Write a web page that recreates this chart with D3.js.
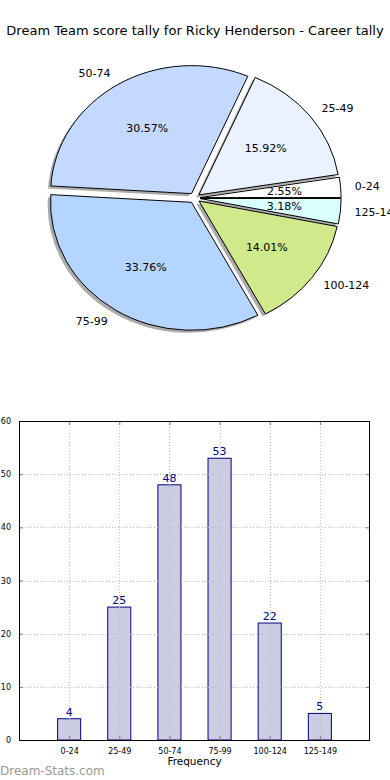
<!DOCTYPE html>
<html>
<head>
<meta charset="utf-8">
<script src="https://cdn.jsdelivr.net/npm/d3@7"></script>
<style>
  html, body { margin: 0; padding: 0; background: #fff; }
  svg { display: block; font-family: "DejaVu Sans", sans-serif; }
</style>
</head>
<body>
<svg id="chart" width="390" height="780"></svg>
<script>
const WIDTH = 390;
const HEIGHT = 780;

const title = 'Dream Team score tally for Ricky Henderson - Career tally';
const categories = ['0-24', '25-49', '50-74', '75-99', '100-124', '125-149'];
const counts = [4, 25, 48, 53, 22, 5];
const pieColors = ['#ffffff', '#eaf2ff', '#c4d9ff', '#b4d5ff', '#d0e98b', '#d9ffff'];
const explode = [0.04, 0.04, 0.04, 0.04, 0.04, 0.04];
const yTicks = [0, 10, 20, 30, 40, 50, 60];

const svg = d3.select('#chart');

svg.append('text')
    .attr('x', WIDTH / 2)
    .attr('y', 35)
    .attr('text-anchor', 'middle')
    .attr('font-size', 13)
    .attr('fill', '#000')
    .text(title);

// ---- pie (elliptical, like matplotlib without equal aspect) ----
const cx = 194.5, cy = 198, rx = 141, ry = 128;
const total = d3.sum(counts);

// matplotlib starts at 3 o'clock and goes counter-clockwise
const pie = d3.pie().sort(null).startAngle(Math.PI / 2).endAngle(Math.PI / 2 - 2 * Math.PI);
const arcs = pie(counts);
const arc = d3.arc().innerRadius(0).outerRadius(1);

const pieG = svg.append('g');

arcs.forEach((a, i) => {
  const mid = (a.startAngle + a.endAngle) / 2; // d3 angle, cw from north
  const theta = Math.PI / 2 - mid;             // ccw from east
  a.theta = theta;
  a.ox = explode[i] * rx * Math.cos(theta);
  a.oy = -explode[i] * ry * Math.sin(theta);
});

// shadows first
pieG.selectAll('path.shadow')
    .data(arcs)
    .enter().append('path')
    .attr('class', 'shadow')
    .attr('d', arc)
    .attr('transform', (a) => `translate(${cx + a.ox - 0.02 * rx},${cy + a.oy + 0.02 * ry}) scale(${rx},${ry})`)
    .attr('fill', '#666')
    .attr('fill-opacity', 0.55)
    .attr('stroke', 'none');

pieG.selectAll('path.wedge')
    .data(arcs)
    .enter().append('path')
    .attr('class', 'wedge')
    .attr('d', arc)
    .attr('transform', (a) => `translate(${cx + a.ox},${cy + a.oy}) scale(${rx},${ry})`)
    .attr('fill', (a, i) => pieColors[i])
    .attr('stroke', '#000')
    .attr('stroke-width', 1)
    .attr('vector-effect', 'non-scaling-stroke')
    .attr('stroke-linejoin', 'round');

// category labels at 1.1 radius
pieG.selectAll('text.lbl')
    .data(arcs)
    .enter().append('text')
    .attr('class', 'lbl')
    .attr('x', (a) => cx + a.ox + 1.1 * rx * Math.cos(a.theta))
    .attr('y', (a) => cy + a.oy - 1.1 * ry * Math.sin(a.theta))
    .attr('dy', '0.35em')
    .attr('text-anchor', (a) => Math.cos(a.theta) > 0 ? 'start' : 'end')
    .attr('font-size', 11)
    .text((a, i) => categories[i]);

// percentages at 0.6 radius
pieG.selectAll('text.pct')
    .data(arcs)
    .enter().append('text')
    .attr('class', 'pct')
    .attr('x', (a) => cx + a.ox + 0.6 * rx * Math.cos(a.theta))
    .attr('y', (a) => cy + a.oy - 0.6 * ry * Math.sin(a.theta))
    .attr('dy', '0.35em')
    .attr('text-anchor', 'middle')
    .attr('font-size', 11)
    .text((a) => (100 * a.value / total).toFixed(2) + '%');

// ---- bar chart ----
const plotL = 19, plotR = 370, plotT = 421, plotB = 740;
const x = d3.scaleLinear().domain([-1, 6]).range([plotL, plotR]);
const y = d3.scaleLinear().domain([0, 60]).range([plotB, plotT]);
const barW = 0.46;

const barG = svg.append('g');

barG.selectAll('rect.bar')
    .data(counts)
    .enter().append('rect')
    .attr('class', 'bar')
    .attr('x', (d, i) => x(i - barW / 2))
    .attr('y', (d) => y(d))
    .attr('width', x(barW) - x(0))
    .attr('height', (d) => y(0) - y(d))
    .attr('fill', '#cccce3')
    .attr('stroke', '#000080')
    .attr('stroke-width', 1);

// dotted grid drawn over the bars
const grid = barG.append('g')
    .attr('stroke', '#bdbdbd')
    .attr('stroke-width', 1)
    .attr('stroke-dasharray', '1,2');
grid.selectAll('line.gx')
    .data(categories)
    .enter().append('line')
    .attr('x1', (d, i) => Math.round(x(i)) + 0.5)
    .attr('x2', (d, i) => Math.round(x(i)) + 0.5)
    .attr('y1', plotT)
    .attr('y2', plotB);
grid.selectAll('line.gy')
    .data(yTicks)
    .enter().append('line')
    .attr('x1', plotL)
    .attr('x2', plotR)
    .attr('y1', (d) => Math.round(y(d)) + 0.5)
    .attr('y2', (d) => Math.round(y(d)) + 0.5);

barG.selectAll('text.val')
    .data(counts)
    .enter().append('text')
    .attr('class', 'val')
    .attr('x', (d, i) => x(i))
    .attr('y', (d) => y(d) - 3)
    .attr('text-anchor', 'middle')
    .attr('font-size', 11)
    .attr('fill', '#000080')
    .text((d) => d);

// axes with inward ticks on all sides
const yAxisL = d3.axisLeft(y).tickValues(yTicks).tickSizeInner(-4).tickSizeOuter(0).tickPadding(8);
const yAxisR = d3.axisRight(y).tickValues(yTicks).tickSizeInner(-4).tickSizeOuter(0).tickFormat('');
const xAxisB = d3.axisBottom(x).tickValues(d3.range(categories.length))
    .tickSizeInner(-4).tickSizeOuter(0).tickPadding(8).tickFormat((d) => categories[d]);
const xAxisT = d3.axisTop(x).tickValues(d3.range(categories.length))
    .tickSizeInner(-4).tickSizeOuter(0).tickFormat('');

function styleAxis(g) {
  g.select('.domain').remove();
  g.selectAll('.tick line').attr('stroke', '#777');
  g.selectAll('.tick text').attr('font-family', '"DejaVu Sans", sans-serif').attr('font-size', 8).attr('fill', '#000');
}

barG.append('g').attr('transform', `translate(${plotL},0)`).call(yAxisL).call(styleAxis);
barG.append('g').attr('transform', `translate(${plotR},0)`).call(yAxisR).call(styleAxis);
barG.append('g').attr('transform', `translate(0,${plotB})`).call(xAxisB).call(styleAxis);
barG.append('g').attr('transform', `translate(0,${plotT})`).call(xAxisT).call(styleAxis);

barG.append('rect')
    .attr('x', plotL + 0.5)
    .attr('y', plotT + 0.5)
    .attr('width', plotR - plotL - 1)
    .attr('height', plotB - plotT)
    .attr('fill', 'none')
    .attr('stroke', '#000')
    .attr('stroke-width', 1);

svg.append('text')
    .attr('x', (plotL + plotR) / 2)
    .attr('y', 765)
    .attr('text-anchor', 'middle')
    .attr('font-size', 10.5)
    .text('Frequency');

svg.append('text')
    .attr('x', 0)
    .attr('y', 775)
    .attr('font-size', 12)
    .attr('fill', '#999')
    .text('Dream-Stats.com');
</script>
</body>
</html>
